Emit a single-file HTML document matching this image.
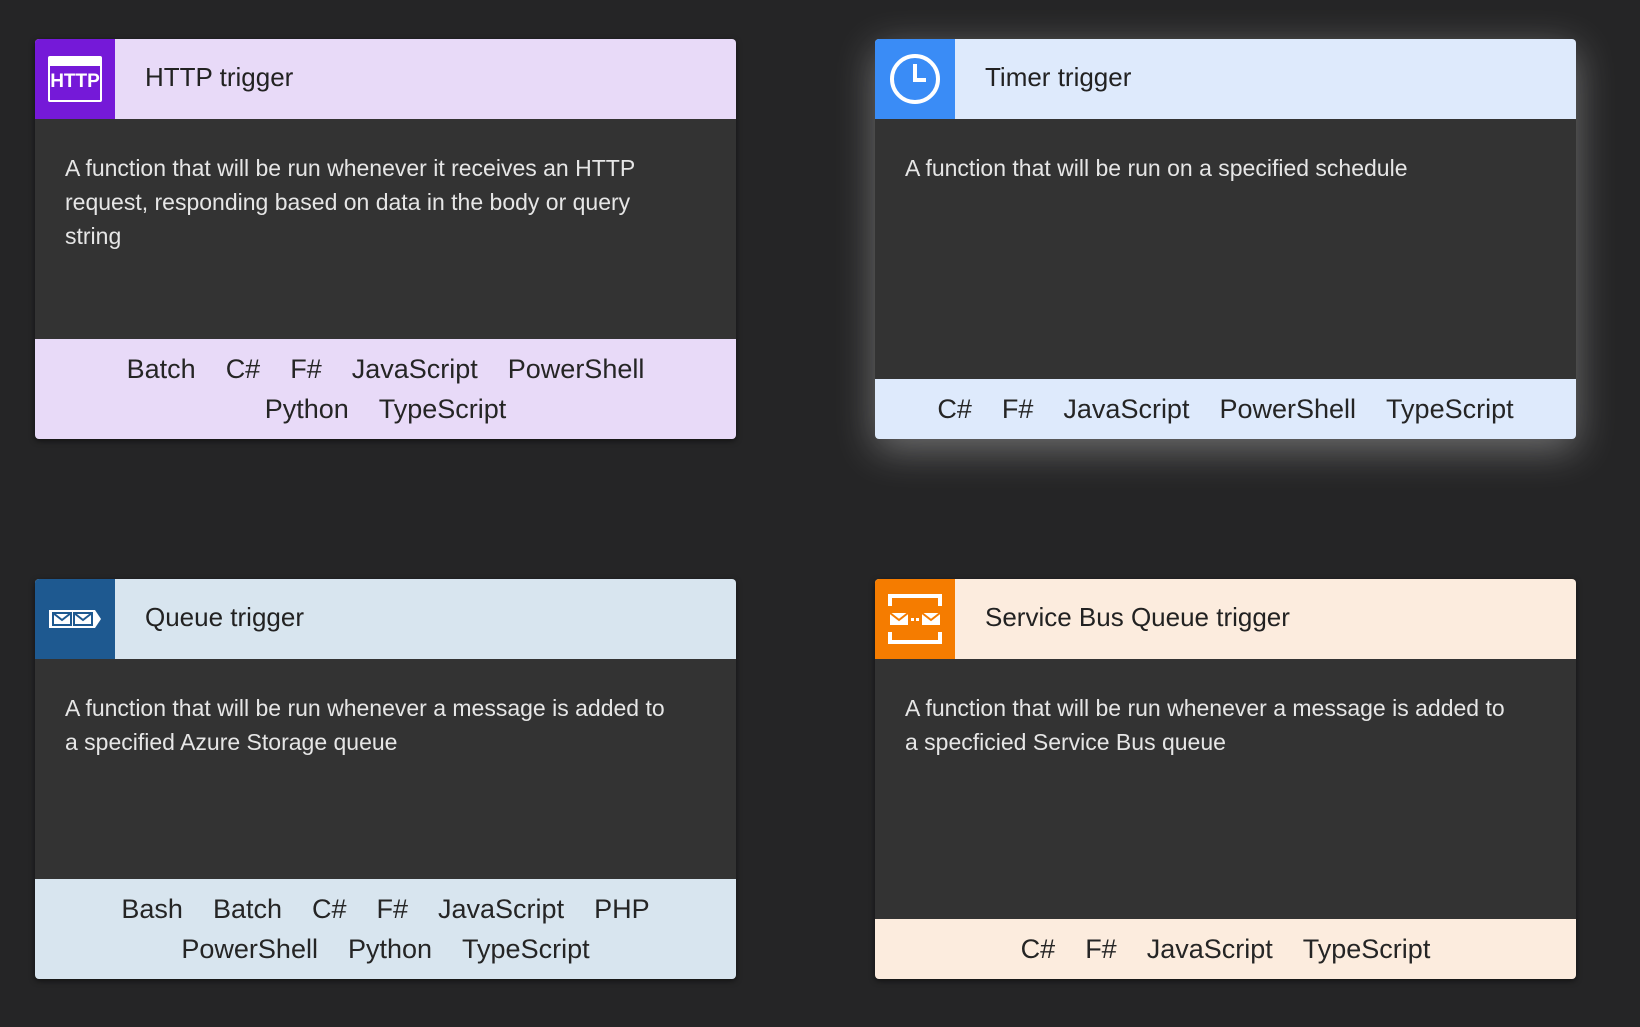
<!DOCTYPE html>
<html><head><meta charset="utf-8"><style>
html,body{margin:0;padding:0;width:1640px;height:1027px;background:#252526;overflow:hidden;font-family:"Liberation Sans",sans-serif}
.card{position:absolute;width:701px;height:400px;border-radius:4px;overflow:hidden;background:#333333;box-shadow:0 2px 6px rgba(0,0,0,.5)}
.hdr{position:absolute;left:0;top:0;width:100%;height:80px}
.icon{position:absolute;left:0;top:0;width:80px;height:80px;display:flex;align-items:center;justify-content:center}
.title{position:absolute;left:110px;top:-2px;line-height:80px;font-size:26px;color:#222}
.body{position:absolute;left:30px;top:112px;width:660px;font-size:23px;line-height:34px;color:#e6e6e6;white-space:nowrap}
.ft{position:absolute;left:0;bottom:0;width:100%;display:flex;flex-direction:column;justify-content:center;align-items:center;font-size:27px;color:#252525}
.ft div{line-height:40px}
.ft span{margin:0 15px}
</style></head><body>

<div class="card" style="left:35px;top:39px">
 <div class="hdr" style="background:#e8daf8"></div>
 <div class="icon" style="background:#7519d8">
  <div style="width:54px;height:46px;border:2px solid #fff;border-top:10px solid #fff;box-sizing:border-box;color:#fff;font-weight:bold;font-size:19px;line-height:32px;text-align:center;border-radius:2px">HTTP</div>
 </div>
 <div class="title">HTTP trigger</div>
 <div class="body">A function that will be run whenever it receives an HTTP<br>request, responding based on data in the body or query<br>string</div>
 <div class="ft" style="height:100px;background:#e8daf8">
  <div><span>Batch</span><span>C#</span><span>F#</span><span>JavaScript</span><span>PowerShell</span></div>
  <div><span>Python</span><span>TypeScript</span></div>
 </div>
</div>

<div class="card" style="left:875px;top:39px;box-shadow:0 10px 40px rgba(255,255,255,.35)">
 <div class="hdr" style="background:#deeafc"></div>
 <div class="icon" style="background:#3a8cf6">
  <svg width="54" height="54" viewBox="0 0 54 54"><circle cx="27" cy="27" r="23" fill="none" stroke="#fff" stroke-width="4"/><path d="M27 12V28H38" fill="none" stroke="#fff" stroke-width="4"/></svg>
 </div>
 <div class="title">Timer trigger</div>
 <div class="body">A function that will be run on a specified schedule</div>
 <div class="ft" style="height:60px;background:#deeafc">
  <div><span>C#</span><span>F#</span><span>JavaScript</span><span>PowerShell</span><span>TypeScript</span></div>
 </div>
</div>

<div class="card" style="left:35px;top:579px">
 <div class="hdr" style="background:#d8e5ef"></div>
 <div class="icon" style="background:#1e5990">
  <svg width="56" height="22" viewBox="0 0 56 22"><path d="M2 2H48L54 11L48 20H2Z" fill="#fff"/><rect x="6" y="5" width="18" height="12" fill="none" stroke="#1e5990" stroke-width="2"/><rect x="27" y="5" width="18" height="12" fill="none" stroke="#1e5990" stroke-width="2"/><path d="M6 5L15 12L24 5M27 5L36 12L45 5" fill="none" stroke="#1e5990" stroke-width="2"/></svg>
 </div>
 <div class="title">Queue trigger</div>
 <div class="body">A function that will be run whenever a message is added to<br>a specified Azure Storage queue</div>
 <div class="ft" style="height:100px;background:#d8e5ef">
  <div><span>Bash</span><span>Batch</span><span>C#</span><span>F#</span><span>JavaScript</span><span>PHP</span></div>
  <div><span>PowerShell</span><span>Python</span><span>TypeScript</span></div>
 </div>
</div>

<div class="card" style="left:875px;top:579px">
 <div class="hdr" style="background:#fcecde"></div>
 <div class="icon" style="background:#f57c00">
  <svg width="54" height="50" viewBox="0 0 54 50"><path d="M2 12V2H52V12M2 38V48H52V38" fill="none" stroke="#fff" stroke-width="4"/><rect x="2" y="19" width="18" height="12" fill="#fff"/><rect x="34" y="19" width="18" height="12" fill="#fff"/><path d="M2 19L11 26L20 19M34 19L43 26L52 19" fill="none" stroke="#f57c00" stroke-width="2"/><rect x="23" y="24" width="3" height="3" fill="#fff"/><rect x="28" y="24" width="3" height="3" fill="#fff"/></svg>
 </div>
 <div class="title">Service Bus Queue trigger</div>
 <div class="body">A function that will be run whenever a message is added to<br>a specficied Service Bus queue</div>
 <div class="ft" style="height:60px;background:#fcecde">
  <div><span>C#</span><span>F#</span><span>JavaScript</span><span>TypeScript</span></div>
 </div>
</div>

</body></html>
